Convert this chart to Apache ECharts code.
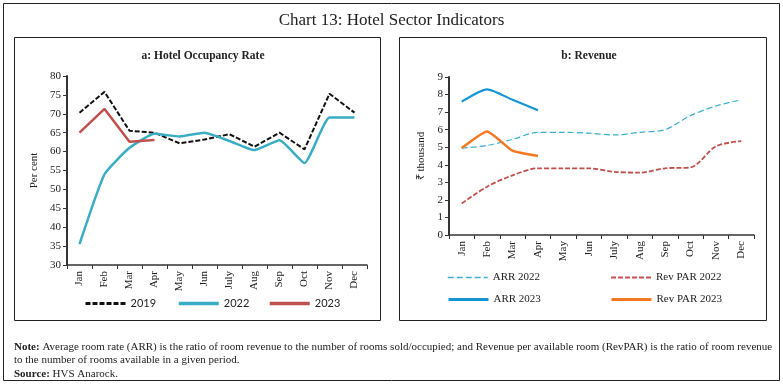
<!DOCTYPE html>
<html><head><meta charset="utf-8">
<script src="https://cdn.jsdelivr.net/npm/echarts@6/dist/echarts.min.js"></script>
<style>html,body{margin:0;padding:0;background:#fff}#c{width:783px;height:384px}</style>
</head><body><div id="c"></div>
<script>
const months = ['Jan','Feb','Mar','Apr','May','Jun','July','Aug','Sep','Oct','Nov','Dec'];
const occ2019 = [70.3, 75.8, 65.5, 65.0, 62.2, 63.2, 64.6, 61.3, 65.0, 60.6, 75.3, 70.3];
const occ2022 = [35.5, 54.0, 61.0, 64.7, 64.0, 65.0, 62.8, 60.4, 63.0, 57.0, 69.0, 69.0];
const occ2023 = [65.0, 71.3, 62.6, 63.1];
const arr2022 = [4.95, 5.1, 5.45, 5.85, 5.85, 5.8, 5.7, 5.85, 6.0, 6.8, 7.35, 7.7];
const revpar2022 = [1.8, 2.75, 3.4, 3.8, 3.8, 3.8, 3.6, 3.55, 3.8, 3.85, 5.05, 5.35];
const arr2023 = [7.6, 8.3, 7.7, 7.1];
const revpar2023 = [4.95, 5.9, 4.8, 4.5];
const occTicks = {min: 30, max: 80, interval: 5};
const revTicks = {min: 0, max: 9, interval: 1};

const FONT = 'Liberation Serif';
const chart = echarts.init(document.getElementById('c'), null, {renderer: 'canvas'});
const axisCommon = (gi) => ({
  type: 'category', gridIndex: gi, data: months, boundaryGap: true,
  axisLine: {lineStyle: {color: '#333', width: 1.5}},
  axisTick: {show: true, length: 4, lineStyle: {color: '#333'}},
  axisLabel: {rotate: 90, color: '#222', fontFamily: FONT, fontSize: 11, margin: 6}
});
const yCommon = (gi, t, name, gap) => ({
  type: 'value', gridIndex: gi, min: t.min, max: t.max, interval: t.interval,
  name: name, nameLocation: 'middle', nameGap: gap, nameRotate: 90,
  nameTextStyle: {fontFamily: FONT, fontSize: 11, color: '#222'},
  splitLine: {show: false},
  axisLine: {show: true, lineStyle: {color: '#333', width: 2}},
  axisTick: {show: true, length: 4, lineStyle: {color: '#333'}},
  axisLabel: {color: '#222', fontFamily: FONT, fontSize: 11, margin: 6}
});
function leg(name, left, top, w, font) {
  return {data: [name], left: left, top: top, itemWidth: 40, itemHeight: 10, itemGap: 4,
    itemStyle: {opacity: 0}, lineStyle: {width: w},
    textStyle: {fontFamily: font || FONT, fontSize: 11, color: '#222'}, selectedMode: false, padding: 0};
}
function ln(name, gi, data, color, width, type, smooth) {
  return {name: name, type: 'line', xAxisIndex: gi, yAxisIndex: gi, data: data, symbol: 'none',
    smooth: smooth, lineStyle: {color: color, width: width, type: type}, itemStyle: {color: color}, z: 3};
}
chart.setOption({
  animation: false,
  title: [
    {text: 'Chart 13: Hotel Sector Indicators', left: 'center', top: 7,
     textStyle: {fontFamily: FONT, fontSize: 17, fontWeight: 'normal', color: '#222'}},
    {text: 'a: Hotel Occupancy Rate', left: 198, textAlign: 'center', top: 45,
     textStyle: {fontFamily: FONT, fontSize: 11.5, fontWeight: 'bold', color: '#222'}},
    {text: 'b: Revenue', left: 584, textAlign: 'center', top: 45,
     textStyle: {fontFamily: FONT, fontSize: 11.5, fontWeight: 'bold', color: '#222'}}
  ],
  grid: [
    {left: 67, top: 76, width: 300, height: 189},
    {left: 449, top: 77, width: 305, height: 158}
  ],
  xAxis: [axisCommon(0), axisCommon(1)],
  yAxis: [yCommon(0, occTicks, 'Per cent', 27), yCommon(1, revTicks, '₹ thousand', 22)],
  legend: [
    leg('2019', 84, 298, 3, 'Lato'), leg('2022', 177, 298, 3.5, 'Lato'), leg('2023', 268, 298, 3.5, 'Lato'),
    leg('ARR 2022', 447, 272, 1.5), leg('Rev PAR 2022', 610, 272, 2),
    leg('ARR 2023', 447, 294, 3), leg('Rev PAR 2023', 610, 294, 3)
  ],
  series: [
    ln('2019', 0, occ2019, '#111', 2, [5, 2], false),
    ln('2022', 0, occ2022, '#3AACC4', 2.5, 'solid', 0.15),
    ln('2023', 0, occ2023, '#C0504D', 2.5, 'solid', false),
    ln('ARR 2022', 1, arr2022, '#3AB0CC', 1.2, [6, 3], 0.3),
    ln('Rev PAR 2022', 1, revpar2022, '#C0504D', 1.8, [5, 2], 0.3),
    ln('ARR 2023', 1, arr2023, '#1596D4', 2.2, 'solid', 0.2),
    ln('Rev PAR 2023', 1, revpar2023, '#F47920', 2.5, 'solid', 0.15)
  ],
  graphic: [
    {type: 'rect', shape: {x: 3.5, y: 3.5, width: 776, height: 377}, style: {fill: 'none', stroke: '#222', lineWidth: 1}, silent: true},
    {type: 'rect', shape: {x: 14.5, y: 37.5, width: 366, height: 283}, style: {fill: 'none', stroke: '#222', lineWidth: 1}, silent: true},
    {type: 'rect', shape: {x: 399.5, y: 37.5, width: 367, height: 283}, style: {fill: 'none', stroke: '#222', lineWidth: 1}, silent: true},
    {type: 'text', left: 14, top: 340, silent: true, style: {
      text: '{b|Note:} Average room rate (ARR) is the ratio of room revenue to the number of rooms sold/occupied; and Revenue per available room (RevPAR) is the ratio of room revenue\nto the number of rooms available in a given period.\n{b|Source:} HVS Anarock.',
      fontFamily: FONT, fontSize: 11, lineHeight: 13.5, fill: '#222',
      rich: {b: {fontFamily: FONT, fontSize: 11, fontWeight: 'bold', fill: '#222'}}
    }}
  ]
});
</script></body></html>
